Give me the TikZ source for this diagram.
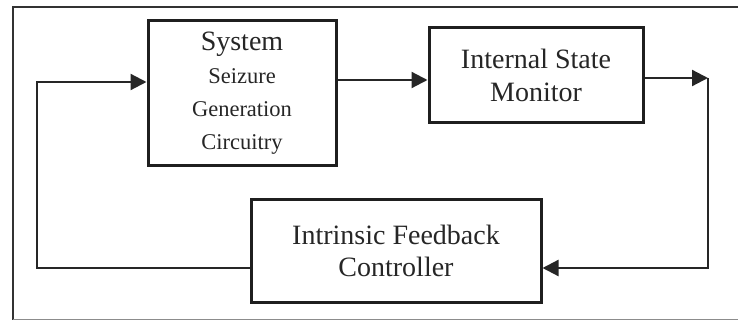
\documentclass[tikz,border=0pt]{standalone}
\usepackage{fontspec}
\setmainfont{Liberation Serif}
\usetikzlibrary{arrows.meta}
\newcommand\subfnt{\fontsize{22.5}{26}\selectfont}
\begin{document}
\begin{tikzpicture}[x=1pt,y=-1pt,
  blk/.style={draw=black!88, line width=3pt, inner sep=0pt, align=center, text=black!85},
  conn/.style={draw=black!85, line width=2.2pt},
  arr/.style={conn, -{Triangle[length=16pt,width=16pt]}},
]
\useasboundingbox (0,0) rectangle (738,320);
\draw[line width=2pt, black!80] (13,320) -- (13,7) -- (738,7);
\draw[line width=1pt, black!45] (13,319) -- (738,319);
\node[blk, minimum width=188pt, minimum height=145pt, font=\rmfamily\fontsize{28}{33}\selectfont] (sys) at (242,93.5)
  {System\\\subfnt Seizure\\\subfnt Generation\\\subfnt Circuitry};
\node[blk, minimum width=214pt, minimum height=95pt, font=\rmfamily\fontsize{28}{33.5}\selectfont] (mon) at (536,75.5)
  {Internal State\\Monitor};
\node[blk, minimum width=290pt, minimum height=102pt, font=\rmfamily\fontsize{28}{32}\selectfont] (ctl) at (396,251)
  {Intrinsic Feedback\\Controller};
\coordinate (ym) at (0,80);
\coordinate (rc) at (708,78);
\coordinate (rb) at (708,268);
\coordinate (lc) at (37,268);
\coordinate (lt) at (37,82);
\draw[arr] (sys.east |- ym) -- (mon.west |- ym);
\draw[arr] (mon.east |- rc) -- (rc);
\draw[arr] (rc) -- (rb) -- (ctl.east |- rb);
\draw[arr] (ctl.west |- lc) -- (lc) -- (lt) -- (sys.west |- lt);
\end{tikzpicture}
\end{document}
